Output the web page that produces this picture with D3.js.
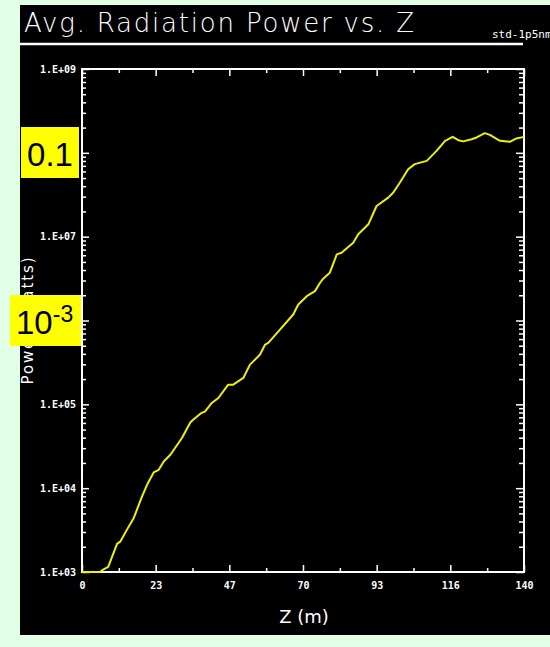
<!DOCTYPE html>
<html>
<head>
<meta charset="utf-8">
<script src="https://cdn.jsdelivr.net/npm/d3@7"></script>
<style>
  html, body { margin: 0; padding: 0; background: #e1ffe4; }
  svg { display: block; }
</style>
</head>
<body>
<div id="chart"></div>
<script>
// z position along the undulator (m) and average radiation power (W)
var zValues = [0, 5.7, 6.7, 8.3, 11.1, 12.1, 14.2, 16.4, 19, 20.6, 22.7, 24.3, 25.9, 28, 31.7, 34.3,
  35.2, 37.5, 39, 41.1, 43.2, 46.3, 47.9, 51.1, 53.2, 56.4, 58, 59, 62.7, 66.9, 68.5, 71.2, 73.8,
  75.4, 76.4, 78.5, 80.7, 82.2, 85.9, 87.5, 90.7, 93.3, 97, 98.6, 100.7, 103.3, 105.4, 109.2,
  112.3, 115, 117.4, 119.2, 120.8, 123.4, 125, 127.6, 129.2, 132.4, 135.5, 137.6, 140];
var powerValues = [1000, 1000, 1070, 1150, 2165, 2300, 3180, 4420, 7940, 10960, 15400, 16550, 20800, 25000, 39900, 60800,
  65600, 77300, 82400, 103800, 119000, 171800, 171800, 206500, 297700, 392400, 516800, 541000, 780000, 1.18e6, 1.55e6, 1.95e6, 2.24e6,
  2.82e6, 3.15e6, 3.72e6, 6.15e6, 6.44e6, 8.48e6, 1.067e7, 1.405e7, 2.32e7, 2.92e7, 3.36e7, 4.42e7, 6.38e7, 7.33e7, 8.02e7,
  1.055e8, 1.39e8, 1.55e8, 1.415e8, 1.37e8, 1.455e8, 1.525e8, 1.717e8, 1.638e8, 1.39e8, 1.352e8, 1.486e8, 1.55e8];

var xTickValues = [0, 140 / 6, 280 / 6, 70, 560 / 6, 700 / 6, 140];
var xTickLabels = ["0", "23", "47", "70", "93", "116", "140"];
var yTickValues = [1e3, 1e4, 1e5, 1e6, 1e7, 1e8, 1e9];
var yTickLabels = ["1.E+03", "1.E+04", "1.E+05", "1.E+06", "1.E+07", "1.E+08", "1.E+09"];

var W = 550, H = 647;
var pLeft = 82, pRight = 524, pTop = 69, pBottom = 572;

var svg = d3.select("#chart").append("svg")
  .attr("width", W)
  .attr("height", H);

// black panel
svg.append("rect")
  .attr("x", 20).attr("y", 5)
  .attr("width", W - 20).attr("height", 630)
  .attr("fill", "#000");

// title + rule
svg.append("text")
  .attr("x", 24).attr("y", 32)
  .attr("fill", "#fff")
  .attr("font-family", "DejaVu Sans, sans-serif")
  .attr("font-weight", 200)
  .attr("font-size", 26)
  .attr("textLength", 390)
  .attr("lengthAdjust", "spacing")
  .text("Avg. Radiation Power vs. Z");
svg.append("line")
  .attr("x1", 20).attr("x2", 523)
  .attr("y1", 44).attr("y2", 44)
  .attr("stroke", "#fff").attr("stroke-width", 2.5);
svg.append("text")
  .attr("x", 492).attr("y", 38)
  .attr("fill", "#fff")
  .attr("font-family", "DejaVu Sans Mono, monospace")
  .attr("font-size", 11)
  .text("std-1p5nm");

var x = d3.scaleLinear().domain([0, 140]).range([pLeft, pRight]);
var y = d3.scaleLog().domain([1e3, 1e9]).range([pBottom, pTop]);

var xMinor = d3.range(0, 12).map(function(i) { return 140 / 12 * i; })
  .filter(function(d, i) { return i % 2 == 1; });
var yMinor = y.ticks().filter(function(d) {
  return yTickValues.indexOf(d) < 0;
});

function styleAxis(g) {
  g.select(".domain").remove();
  g.selectAll(".tick line").attr("stroke", "#fff").attr("stroke-width", 1.5);
  g.selectAll(".tick text")
    .attr("fill", "#fff")
    .attr("font-family", "DejaVu Sans Mono, monospace")
    .attr("font-weight", "bold")
    .attr("font-size", 10);
}

// bottom axis
svg.append("g").attr("transform", "translate(0," + pBottom + ")")
  .call(d3.axisBottom(x).tickValues(xMinor).tickSize(-4).tickFormat(""))
  .call(styleAxis);
svg.append("g").attr("transform", "translate(0," + pBottom + ")")
  .call(d3.axisBottom(x).tickValues(xTickValues).tickSize(-7).tickPadding(10)
    .tickFormat(function(d, i) { return xTickLabels[i]; }))
  .call(styleAxis);
// top axis
svg.append("g").attr("transform", "translate(0," + pTop + ")")
  .call(d3.axisTop(x).tickValues(xMinor).tickSize(-4).tickFormat(""))
  .call(styleAxis);
svg.append("g").attr("transform", "translate(0," + pTop + ")")
  .call(d3.axisTop(x).tickValues(xTickValues).tickSize(-7).tickFormat(""))
  .call(styleAxis);
// left axis
svg.append("g").attr("transform", "translate(" + pLeft + ",0)")
  .call(d3.axisLeft(y).tickValues(yMinor).tickSize(-4).tickFormat(""))
  .call(styleAxis);
svg.append("g").attr("transform", "translate(" + pLeft + ",0)")
  .call(d3.axisLeft(y).tickValues(yTickValues).tickSize(-7).tickPadding(6)
    .tickFormat(function(d, i) { return yTickLabels[i]; }))
  .call(styleAxis);
// right axis
svg.append("g").attr("transform", "translate(" + pRight + ",0)")
  .call(d3.axisRight(y).tickValues(yMinor).tickSize(-5).tickFormat(""))
  .call(styleAxis);
svg.append("g").attr("transform", "translate(" + pRight + ",0)")
  .call(d3.axisRight(y).tickValues(yTickValues).tickSize(-8).tickFormat(""))
  .call(styleAxis);

// frame
svg.append("rect")
  .attr("x", pLeft).attr("y", pTop)
  .attr("width", pRight - pLeft).attr("height", pBottom - pTop)
  .attr("fill", "none")
  .attr("stroke", "#fff").attr("stroke-width", 2);

// curve
var line = d3.line()
  .x(function(d, i) { return x(zValues[i]); })
  .y(function(d) { return y(d); });
svg.append("path")
  .datum(powerValues)
  .attr("d", line)
  .attr("fill", "none")
  .attr("stroke", "#f0f000")
  .attr("stroke-width", 2)
  .attr("stroke-linejoin", "round");

// axis titles
svg.append("text")
  .attr("x", 304).attr("y", 623)
  .attr("text-anchor", "middle")
  .attr("fill", "#fff")
  .attr("font-family", "DejaVu Sans, sans-serif")
  .attr("font-size", 18)
  .text("Z (m)");
svg.append("text")
  .attr("transform", "translate(33,321) rotate(-90)")
  .attr("text-anchor", "middle")
  .attr("fill", "#fff")
  .attr("font-family", "DejaVu Sans, sans-serif")
  .attr("font-size", 15)
  .attr("textLength", 127)
  .attr("lengthAdjust", "spacing")
  .text("Power (Watts)");

// yellow annotation boxes
svg.append("rect")
  .attr("x", 21).attr("y", 127).attr("width", 58).attr("height", 51)
  .attr("fill", "#ffff00");
svg.append("text")
  .attr("x", 50).attr("y", 166)
  .attr("text-anchor", "middle")
  .attr("fill", "#000")
  .attr("font-family", "Liberation Sans, Arial, sans-serif")
  .attr("font-size", 33)
  .text("0.1");

svg.append("rect")
  .attr("x", 10).attr("y", 295).attr("width", 71).attr("height", 51)
  .attr("fill", "#ffff00");
var t = svg.append("text")
  .attr("x", 16).attr("y", 334)
  .attr("fill", "#000")
  .attr("font-family", "Liberation Sans, Arial, sans-serif")
  .attr("font-size", 33);
t.append("tspan").text("10");
t.append("tspan").attr("dy", -12).attr("font-size", 23).text("-3");
</script>
</body>
</html>
